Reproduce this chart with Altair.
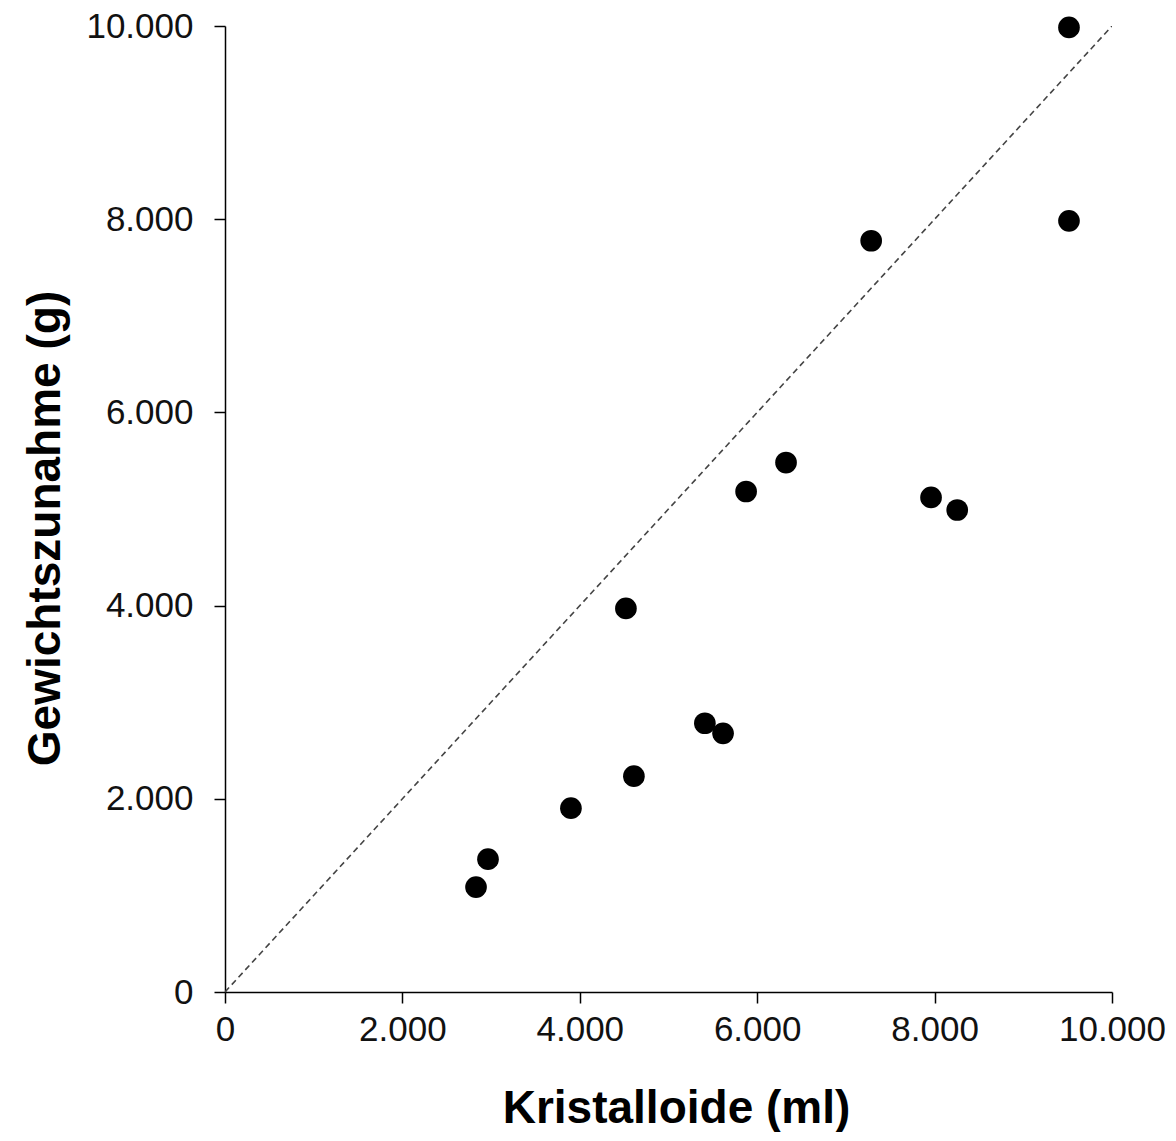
import altair as alt
import pandas as pd

# Data
kristalloide_ml = [2830, 2965, 3900, 4520, 4610, 5410, 5615, 5875, 6325, 7285, 7960, 8255, 9515, 9515]
gewichtszunahme_g = [1086, 1375, 1903, 3971, 2234, 2782, 2678, 5181, 5481, 7777, 5120, 4990, 7983, 9985]
identity_line = [0, 10000]
tick_values = [0, 2000, 4000, 6000, 8000, 10000]

points_df = pd.DataFrame({"x": kristalloide_ml, "y": gewichtszunahme_g})
line_df = pd.DataFrame({"x": identity_line, "y": identity_line})

FONT = "Liberation Sans"
label_expr = "replace(format(datum.value, ','), ',', '.')"

x_scale = alt.Scale(domain=[0, 10000], nice=False, zero=True)
y_scale = alt.Scale(domain=[0, 10000], nice=False, zero=True)

x_axis = alt.Axis(
    values=tick_values, labelExpr=label_expr, grid=False,
    domainColor="black", domainWidth=1.5, tickColor="black", tickWidth=1.5,
    tickSize=11, labelFont=FONT, labelFontSize=35, labelColor="#111",
    labelPadding=9, labelFlush=False, labelOverlap=False,
    title="Kristalloide (ml)", titleFont=FONT, titleFontSize=46,
    titleFontWeight="bold", titleColor="black",
    titleX=451, titleY=130, titleBaseline="alphabetic", titleAlign="center",
)
y_axis = alt.Axis(
    values=tick_values, labelExpr=label_expr, grid=False,
    domainColor="black", domainWidth=1.5, tickColor="black", tickWidth=1.5,
    tickSize=11, labelFont=FONT, labelFontSize=35, labelColor="#111",
    labelPadding=21, labelFlush=False, labelOverlap=False,
    title="Gewichtszunahme (g)", titleFont=FONT, titleFontSize=46,
    titleFontWeight="bold", titleColor="black", titleAngle=270,
    titleX=-166, titleY=502, titleBaseline="alphabetic", titleAlign="center",
)

line = alt.Chart(line_df).mark_line(
    color="#444444", strokeWidth=1.6, strokeDash=[6, 4], clip=True
).encode(
    x=alt.X("x:Q", scale=x_scale, axis=x_axis),
    y=alt.Y("y:Q", scale=y_scale, axis=y_axis),
)

pts = alt.Chart(points_df).mark_circle(
    color="black", opacity=1, size=470
).encode(
    x=alt.X("x:Q", scale=x_scale),
    y=alt.Y("y:Q", scale=y_scale),
)

chart = alt.layer(line, pts).properties(
    width=887, height=966,
    background="white",
    autosize=alt.AutoSizeParams(type="none"),
    padding={"left": 217, "top": 18, "right": 55, "bottom": 140},
).configure_view(stroke=None, strokeWidth=0)

chart.save("out.html", embed_options={"renderer": "svg", "actions": False})
